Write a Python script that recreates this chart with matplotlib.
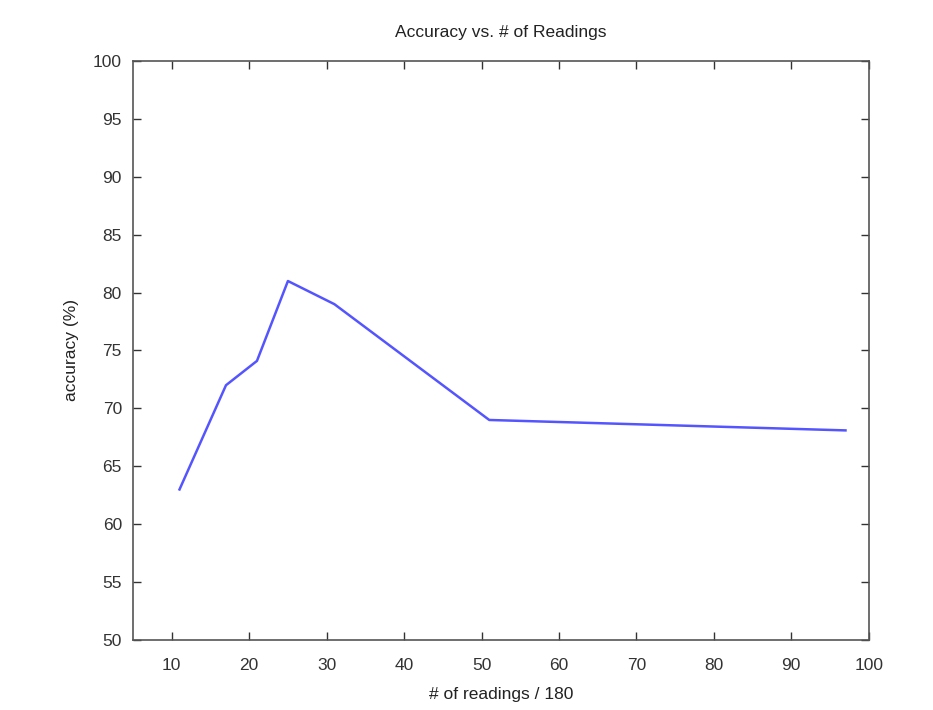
import matplotlib
matplotlib.use("Agg")
import matplotlib.pyplot as plt

# data
readings = [11, 17, 21, 25, 31, 51, 97]
accuracy = [63.0, 72.0, 74.1, 81.0, 79.0, 69.0, 68.1]
x_ticks = [10, 20, 30, 40, 50, 60, 70, 80, 90, 100]
y_ticks = [50, 55, 60, 65, 70, 75, 80, 85, 90, 95, 100]

plt.rcParams["font.family"] = ["Liberation Sans", "DejaVu Sans"]

fig = plt.figure(figsize=(9.33, 7.10), dpi=100)
ax = fig.add_axes([0.1426, 0.0986, 0.7885, 0.8155])

ax.plot(readings, accuracy, color="#5555ff", linewidth=1.8)

ax.set_xlim(5, 100)
ax.set_ylim(50, 100)
ax.set_xticks(x_ticks)
ax.set_yticks(y_ticks)
ax.tick_params(direction="in", length=6, width=1, top=True, right=True,
               labelsize=12.5, colors="#333333")
ax.tick_params(axis="x", pad=13)
ax.tick_params(axis="y", pad=8)
for s in ax.spines.values():
    s.set_color("#555555")
    s.set_linewidth(1.2)

ax.set_title("Accuracy vs. # of Readings", fontsize=12.5, color="#222222", pad=17)
ax.set_xlabel("# of readings / 180", fontsize=12.5, color="#222222", labelpad=10)
ax.set_ylabel("accuracy (%)", fontsize=12.5, color="#222222", labelpad=10)

fig.savefig("out.png", dpi=100)
